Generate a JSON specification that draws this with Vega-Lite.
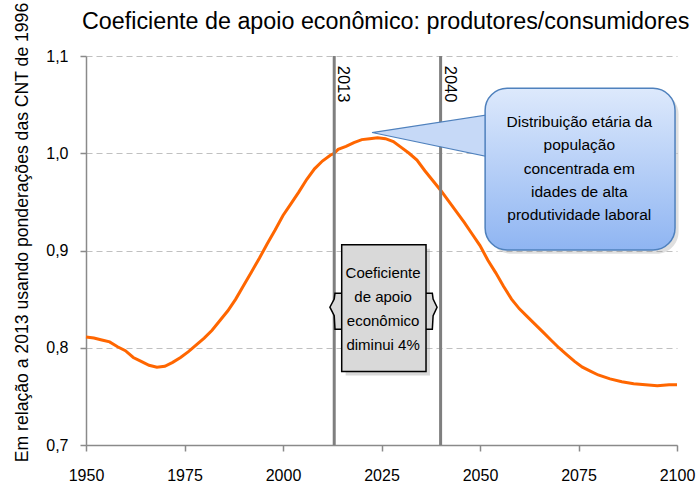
{
  "$schema": "https://vega.github.io/schema/vega-lite/v6.json",
  "width": 591,
  "height": 389,
  "autosize": {"type": "none"},
  "padding": {"left": 86, "top": 56, "right": 19, "bottom": 40},
  "background": "white",
  "title": {
    "text": "Coeficiente de apoio econômico: produtores/consumidores",
    "font": "Liberation Sans, Arial, sans-serif",
    "fontSize": 23.3,
    "fontWeight": "normal",
    "color": "#000000",
    "anchor": "start",
    "frame": "group",
    "baseline": "alphabetic",
    "offset": 0,
    "dy": 50,
    "dx": -4
  },
  "config": {
    "view": {"stroke": null},
    "axis": {
      "domainColor": "#8a8a8a",
      "domainWidth": 1.5,
      "tickColor": "#8a8a8a",
      "tickWidth": 1.5,
      "tickSize": 6,
      "labelFont": "Liberation Sans, Arial, sans-serif",
      "labelFontSize": 16,
      "labelColor": "#000000",
      "titleColor": "#000000"
    }
  },
  "datasets": {
    "series": [
      {"year": 1950, "value": 0.811}, {"year": 1952, "value": 0.810}, {"year": 1954, "value": 0.808},
      {"year": 1956, "value": 0.806}, {"year": 1958, "value": 0.801}, {"year": 1960, "value": 0.797},
      {"year": 1962, "value": 0.790}, {"year": 1964, "value": 0.786}, {"year": 1966, "value": 0.782},
      {"year": 1968, "value": 0.780}, {"year": 1970, "value": 0.781}, {"year": 1972, "value": 0.785},
      {"year": 1974, "value": 0.790}, {"year": 1976, "value": 0.796}, {"year": 1978, "value": 0.803},
      {"year": 1980, "value": 0.810}, {"year": 1982, "value": 0.818}, {"year": 1984, "value": 0.828},
      {"year": 1986, "value": 0.838}, {"year": 1988, "value": 0.850}, {"year": 1990, "value": 0.864},
      {"year": 1992, "value": 0.878}, {"year": 1994, "value": 0.892}, {"year": 1996, "value": 0.907},
      {"year": 1998, "value": 0.921}, {"year": 2000, "value": 0.936}, {"year": 2002, "value": 0.948},
      {"year": 2004, "value": 0.960}, {"year": 2006, "value": 0.973}, {"year": 2008, "value": 0.984},
      {"year": 2010, "value": 0.992}, {"year": 2012, "value": 0.998}, {"year": 2013, "value": 1.000},
      {"year": 2014, "value": 1.004}, {"year": 2016, "value": 1.007}, {"year": 2018, "value": 1.011},
      {"year": 2020, "value": 1.014}, {"year": 2022, "value": 1.015}, {"year": 2024, "value": 1.016},
      {"year": 2026, "value": 1.015}, {"year": 2028, "value": 1.012}, {"year": 2030, "value": 1.006},
      {"year": 2032, "value": 1.000}, {"year": 2034, "value": 0.993}, {"year": 2036, "value": 0.982},
      {"year": 2038, "value": 0.972}, {"year": 2040, "value": 0.962}, {"year": 2042, "value": 0.951},
      {"year": 2044, "value": 0.940}, {"year": 2046, "value": 0.929}, {"year": 2048, "value": 0.917},
      {"year": 2050, "value": 0.905}, {"year": 2052, "value": 0.890}, {"year": 2054, "value": 0.877},
      {"year": 2056, "value": 0.863}, {"year": 2058, "value": 0.850}, {"year": 2060, "value": 0.840},
      {"year": 2062, "value": 0.832}, {"year": 2064, "value": 0.824}, {"year": 2066, "value": 0.816},
      {"year": 2068, "value": 0.808}, {"year": 2070, "value": 0.800}, {"year": 2072, "value": 0.793},
      {"year": 2074, "value": 0.786}, {"year": 2076, "value": 0.780}, {"year": 2078, "value": 0.776},
      {"year": 2080, "value": 0.772}, {"year": 2083, "value": 0.768}, {"year": 2086, "value": 0.765},
      {"year": 2089, "value": 0.763}, {"year": 2092, "value": 0.762}, {"year": 2095, "value": 0.761},
      {"year": 2098, "value": 0.762}, {"year": 2100, "value": 0.762}
    ],
    "pointer": [
      {"px": 2022.6, "hi": 1.0213, "lo": 1.0213},
      {"px": 2051.8, "hi": 1.0394, "lo": 0.9966}
    ],
    "braces": [
      {"side": "L", "by": 0.8561, "bx": 2013.2, "bx2": 2015.3},
      {"side": "L", "by": 0.8500, "bx": 2013.0, "bx2": 2015.3},
      {"side": "L", "by": 0.8417, "bx": 2011.9, "bx2": 2015.3},
      {"side": "L", "by": 0.8330, "bx": 2013.0, "bx2": 2015.3},
      {"side": "L", "by": 0.8191, "bx": 2013.2, "bx2": 2015.3},
      {"side": "R", "by": 0.8561, "bx": 2035.9, "bx2": 2037.9},
      {"side": "R", "by": 0.8500, "bx": 2035.9, "bx2": 2038.1},
      {"side": "R", "by": 0.8417, "bx": 2035.9, "bx2": 2039.1},
      {"side": "R", "by": 0.8330, "bx": 2035.9, "bx2": 2038.1},
      {"side": "R", "by": 0.8191, "bx": 2035.9, "bx2": 2037.9}
    ]
  },
  "layer": [
    {
      "data": {"name": "series"},
      "mark": {"type": "line", "color": "#ff6600", "strokeWidth": 3},
      "encoding": {
        "x": {
          "field": "year", "type": "quantitative",
          "scale": {"domain": [1950, 2100], "nice": false, "zero": false},
          "axis": {
            "title": null, "grid": false,
            "values": [1950, 1975, 2000, 2025, 2050, 2075, 2100],
            "format": "d", "labelPadding": 16, "labelFlush": false
          }
        },
        "y": {
          "field": "value", "type": "quantitative",
          "scale": {"domain": [0.7, 1.1], "nice": false, "zero": false},
          "axis": {
            "title": "Em relação a 2013 usando ponderações das CNT de 1996",
            "titleFont": "Liberation Sans, Arial, sans-serif",
            "titleFontSize": 17.6,
            "titleFontWeight": "normal",
            "titleAngle": 270,
            "titleAlign": "center",
            "titleBaseline": "alphabetic",
            "titleX": -59,
            "titleY": 176,
            "values": [0.7, 0.8, 0.9, 1.0, 1.1],
            "labelExpr": "replace(format(datum.value, '.1f'), '.', ',')",
            "labelPadding": 12,
            "grid": true,
            "gridColor": "#c0c0c0",
            "gridDash": [6, 4],
            "gridWidth": 1.2
          }
        }
      }
    },
    {
      "data": {"values": [{"yr": 2013}, {"yr": 2040}]},
      "mark": {"type": "rule", "color": "#7f7f7f", "strokeWidth": 3},
      "encoding": {
        "x": {"field": "yr", "type": "quantitative"}
      }
    },
    {
      "data": {"values": [{"yr": 2013, "lab": "2013"}, {"yr": 2040, "lab": "2040"}]},
      "mark": {
        "type": "text", "angle": 90, "align": "left", "baseline": "alphabetic", "dy": -4,
        "font": "Liberation Sans, Arial, sans-serif",
        "fontSize": 16.5, "color": "#000000"
      },
      "encoding": {
        "x": {"field": "yr", "type": "quantitative"},
        "y": {"datum": 1.09, "type": "quantitative"},
        "text": {"field": "lab"}
      }
    },
    {
      "data": {"values": [{"box": "callout shadow"}]},
      "mark": {"type": "rect", "cornerRadius": 22, "fill": "#808080", "opacity": 0.25},
      "encoding": {
        "x": {"datum": 2052.3, "type": "quantitative"},
        "x2": {"datum": 2100.4},
        "y": {"datum": 1.0628, "type": "quantitative"},
        "y2": {"datum": 0.8966}
      }
    },
    {
      "data": {"name": "pointer"},
      "mark": {"type": "area", "fill": "#c6d9f7", "stroke": "#4f81bd", "strokeWidth": 1.2, "interpolate": "linear"},
      "encoding": {
        "x": {"field": "px", "type": "quantitative"},
        "y": {"field": "hi", "type": "quantitative"},
        "y2": {"field": "lo"}
      }
    },
    {
      "data": {"values": [{"box": "callout"}]},
      "mark": {
        "type": "rect", "cornerRadius": 22, "stroke": "#4f81bd", "strokeWidth": 1.5,
        "fill": {
          "gradient": "linear", "x1": 0, "y1": 0, "x2": 0, "y2": 1,
          "stops": [{"offset": 0, "color": "#dde9fc"}, {"offset": 1, "color": "#8fb5f2"}]
        }
      },
      "encoding": {
        "x": {"datum": 2051.3, "type": "quantitative"},
        "x2": {"datum": 2099.5},
        "y": {"datum": 1.0668, "type": "quantitative"},
        "y2": {"datum": 0.9006}
      }
    },
    {
      "data": {"values": [{"t": ["Distribuição etária da", "população", "concentrada em", "idades de alta", "produtividade laboral"]}]},
      "mark": {
        "type": "text", "align": "center", "baseline": "top", "lineHeight": 23.3,
        "font": "Liberation Sans, Arial, sans-serif",
        "fontSize": 15.5, "color": "#000000"
      },
      "encoding": {
        "x": {"datum": 2075.2, "type": "quantitative"},
        "y": {"datum": 1.0392, "type": "quantitative"},
        "text": {"field": "t"}
      }
    },
    {
      "data": {"values": [{"box": "note shadow"}]},
      "mark": {"type": "rect", "fill": "#808080", "opacity": 0.3},
      "encoding": {
        "x": {"datum": 2015.9, "type": "quantitative"},
        "x2": {"datum": 2037.3},
        "y": {"datum": 0.9018, "type": "quantitative"},
        "y2": {"datum": 0.7715}
      }
    },
    {
      "data": {"name": "braces"},
      "mark": {"type": "area", "orient": "horizontal", "fill": "#d9d9d9", "stroke": "#000000", "strokeWidth": 1.5},
      "encoding": {
        "y": {"field": "by", "type": "quantitative"},
        "x": {"field": "bx", "type": "quantitative"},
        "x2": {"field": "bx2"},
        "detail": {"field": "side"}
      }
    },
    {
      "data": {"values": [{"box": "note"}]},
      "mark": {"type": "rect", "fill": "#d9d9d9", "stroke": "#000000", "strokeWidth": 1.5},
      "encoding": {
        "x": {"datum": 2014.9, "type": "quantitative"},
        "x2": {"datum": 2036.3},
        "y": {"datum": 0.9058, "type": "quantitative"},
        "y2": {"datum": 0.7755}
      }
    },
    {
      "data": {"values": [{"t": ["Coeficiente", "de apoio", "econômico", "diminui 4%"]}]},
      "mark": {
        "type": "text", "align": "center", "baseline": "top", "lineHeight": 24,
        "font": "Liberation Sans, Arial, sans-serif",
        "fontSize": 15, "color": "#000000"
      },
      "encoding": {
        "x": {"datum": 2025.4, "type": "quantitative"},
        "y": {"datum": 0.8842, "type": "quantitative"},
        "text": {"field": "t"}
      }
    }
  ]
}
